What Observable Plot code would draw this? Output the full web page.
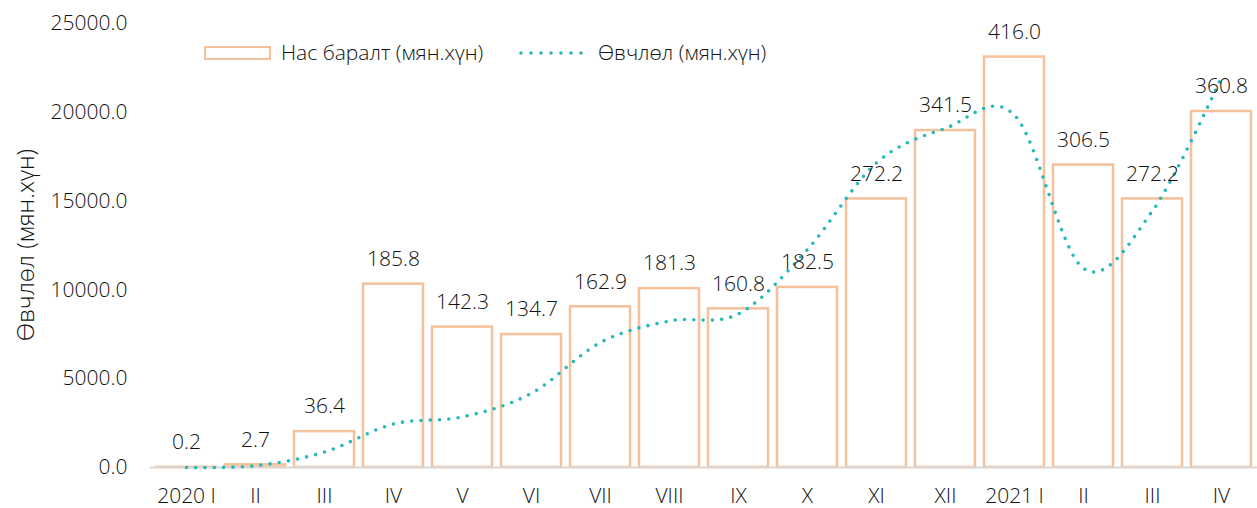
<!DOCTYPE html>
<html>
<head>
<meta charset="utf-8">
<script src="https://cdn.jsdelivr.net/npm/d3@7"></script>
<script src="https://cdn.jsdelivr.net/npm/@observablehq/plot@0.6"></script>
<style>
  body { margin: 0; background: #fff; }
  #wrap { position: relative; width: 1257px; height: 508px; font-family: "Open Sans", sans-serif; font-weight: 300; color: #111; }
  #wrap svg { position: absolute; left: 0; top: 0; }
  .leg { position: absolute; font-size: 21px; line-height: 1; white-space: nowrap; }
  #ylab { position: absolute; font-size: 24px; line-height: 1; white-space: nowrap; transform-origin: center; }
</style>
</head>
<body>
<div id="wrap"></div>
<script>
// ---- data ----
const categories = ["2020-01","2020-02","2020-03","2020-04","2020-05","2020-06","2020-07","2020-08","2020-09","2020-10","2020-11","2020-12","2021-01","2021-02","2021-03","2021-04"];
const tickLabels = ["2020 I","II","III","IV","V","VI","VII","VIII","IX","X","XI","XII","2021 I","II","III","IV"];
const deaths = [0.2, 2.7, 36.4, 185.8, 142.3, 134.7, 162.9, 181.3, 160.8, 182.5, 272.2, 341.5, 416.0, 306.5, 272.2, 360.8];
const cases = [0, 100, 870, 2450, 2850, 4180, 7040, 8250, 8650, 12280, 17150, 19100, 19840, 11210, 14450, 21980];
const yTicks = [0, 5000, 10000, 15000, 20000, 25000];
const seriesNames = ["Нас баралт (мян.хүн)", "Өвчлөл (мян.хүн)"];
const yLabel = "Өвчлөл (мян.хүн)";

// hidden secondary axis for deaths: 0..450 mapped onto 0..25000
const leftMax = 25000, rightMax = 450;
const k = leftMax / rightMax;

const data = categories.map((c, i) => ({key: c, label: tickLabels[i], deaths: deaths[i], cases: cases[i]}));
const labelOf = new Map(data.map(d => [d.key, d.label]));

const barColor = "#F4C19A";
const lineColor = "#27B8B8";
const textColor = "#111";

const chart = Plot.plot({
  width: 1257,
  height: 508,
  marginLeft: 150,
  marginRight: 0,
  marginTop: 23,
  marginBottom: 41,
  style: {fontFamily: "Open Sans, sans-serif", color: textColor, background: "transparent"},
  x: {domain: categories, paddingInner: 0.13, paddingOuter: 0.065},
  y: {domain: [0, leftMax]},
  marks: [
    Plot.barY(data, {x: "key", y: d => d.deaths * k, fill: "white", stroke: barColor, strokeWidth: 2.5}),
    Plot.ruleY([0], {stroke: "#D9D9D9", strokeWidth: 2}),
    Plot.line(data, {x: "key", y: "cases", curve: "cardinal", tension: 0, stroke: lineColor, strokeWidth: 3.6, strokeDasharray: "0 9.3", strokeLinecap: "round"}),
    Plot.text(data, {x: "key", y: d => d.deaths * k, text: d => d.deaths.toFixed(1), dy: -25, fontSize: 21, fontWeight: 300, fill: textColor}),
    Plot.axisY({ticks: yTicks, tickFormat: d => d.toFixed(1), tickSize: 0, tickPadding: 23, fontSize: 21, fontWeight: 300, label: null, color: textColor}),
    Plot.axisX({tickSize: 0, tickPadding: 21, fontSize: 21, fontWeight: 300, tickFormat: d => labelOf.get(d), label: null, color: textColor})
  ]
});

const wrap = document.getElementById("wrap");
wrap.appendChild(chart);

// legend (HTML overlay)
const sw1 = document.createElement("div");
Object.assign(sw1.style, {position: "absolute", left: "204px", top: "45.5px", width: "63px", height: "10px", border: `2.5px solid ${barColor}`, background: "#fff"});
wrap.appendChild(sw1);
const t1 = document.createElement("div");
t1.className = "leg"; t1.textContent = seriesNames[0];
Object.assign(t1.style, {left: "281px", top: "42px"});
wrap.appendChild(t1);

const sw2 = document.createElementNS("http://www.w3.org/2000/svg", "svg");
sw2.setAttribute("width", "72"); sw2.setAttribute("height", "10");
Object.assign(sw2.style, {position: "absolute", left: "516px", top: "48px"});
const ln = document.createElementNS("http://www.w3.org/2000/svg", "line");
ln.setAttribute("x1", "5"); ln.setAttribute("x2", "66"); ln.setAttribute("y1", "5"); ln.setAttribute("y2", "5");
ln.setAttribute("stroke", lineColor); ln.setAttribute("stroke-width", "3.6");
ln.setAttribute("stroke-dasharray", "0 10"); ln.setAttribute("stroke-linecap", "round");
sw2.appendChild(ln);
wrap.appendChild(sw2);
const t2 = document.createElement("div");
t2.className = "leg"; t2.textContent = seriesNames[1];
Object.assign(t2.style, {left: "598px", top: "42px"});
wrap.appendChild(t2);

// y axis title
const yl = document.createElement("div");
yl.id = "ylab"; yl.textContent = yLabel;
wrap.appendChild(yl);
const w = yl.offsetWidth, h = yl.offsetHeight;
yl.style.left = (24.5 - w / 2) + "px";
yl.style.top = (245 - h / 2) + "px";
yl.style.transform = "rotate(-90deg)";
</script>
</body>
</html>
